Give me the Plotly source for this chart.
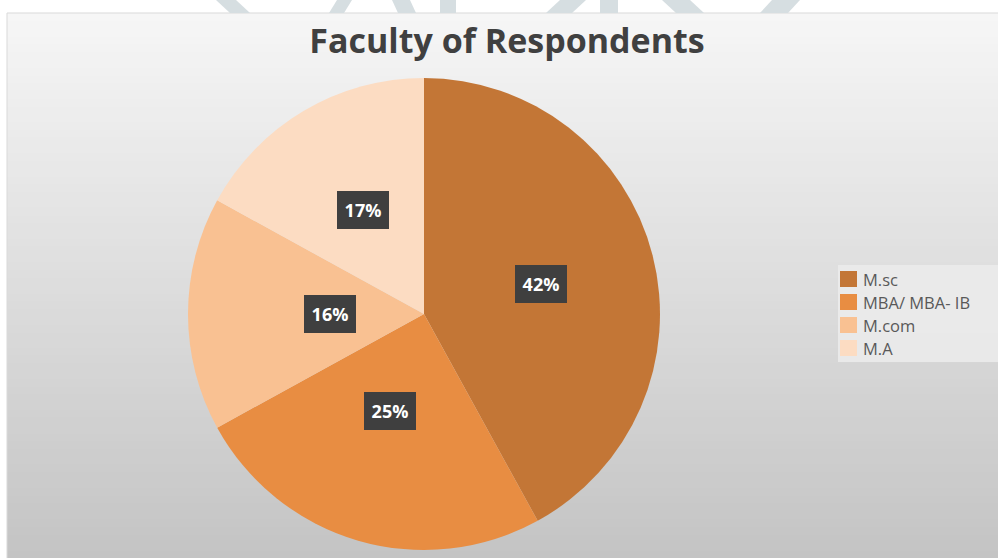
import math
import plotly.graph_objects as go

# ---- data ----
categories = ["M.sc", "MBA/ MBA- IB", "M.com", "M.A"]
values = [42, 25, 16, 17]
colors = ["#C37636", "#E88D42", "#F9C192", "#FCDCC2"]
title_text = "Faculty of Respondents"

W, H = 998, 558
cx, cy, R = 424, 314, 236  # pie centre/radius in pixels

def px2x(x):
    return x / W

def px2y(y):
    return 1 - y / H

fig = go.Figure()
fig.add_trace(go.Pie(
    labels=categories, values=values, sort=False, direction="clockwise",
    rotation=0, marker=dict(colors=colors, line=dict(width=0)),
    textinfo="none", hoverinfo="label+percent", showlegend=False,
    domain=dict(x=[px2x(cx - R), px2x(cx + R)], y=[px2y(cy + R), px2y(cy - R)]),
))

shapes = []
top = 13
n = 70
def mix(a, b, t):
    return int(round(a + (b - a) * t))
for i in range(n):
    y0 = top + (H - top) * i / n
    y1 = top + (H - top) * (i + 1) / n + 2
    t = i / (n - 1)
    v = mix(246, 196, t)
    shapes.append(dict(type="rect", xref="paper", yref="paper", layer="below",
                       x0=px2x(7), x1=1.01, y0=px2y(min(y1, H + 2)), y1=px2y(y0),
                       fillcolor=f"rgb({v},{v},{v})", line=dict(width=0)))
# chart border
shapes.append(dict(type="rect", xref="paper", yref="paper", layer="below",
                   x0=px2x(7), x1=1.01, y0=-0.01, y1=px2y(top),
                   fillcolor="rgba(0,0,0,0)", line=dict(width=1, color="#D9D9D9")))
# faint watermark bits in top strip
for (xa, xb, sk) in [(216, 236, 14), (337, 352, -8), (392, 410, 6), (440, 456, 0),
                     (560, 586, -14), (600, 618, 0), (662, 690, 14), (772, 800, -12)]:
    shapes.append(dict(type="path", xref="paper", yref="paper", layer="below",
                       path=f"M {px2x(xa)},1 L {px2x(xb)},1 L {px2x(xb+sk)},{px2y(top)} L {px2x(xa+sk)},{px2y(top)} Z",
                       fillcolor="#D6DEE1", line=dict(width=0)))
# legend background
shapes.append(dict(type="rect", xref="paper", yref="paper", layer="below",
                   x0=px2x(838), x1=1.01, y0=px2y(362), y1=px2y(265),
                   fillcolor="rgba(236,236,236,0.85)", line=dict(width=0)))

annotations = []
# manual legend built from categories / colors
leg_x, leg_y0, leg_dy = 840, 279, 23
for i, (cat, col) in enumerate(zip(categories, colors)):
    yc = leg_y0 + i * leg_dy
    shapes.append(dict(type="rect", xref="paper", yref="paper",
                       x0=px2x(leg_x), x1=px2x(leg_x + 17), y0=px2y(yc + 8), y1=px2y(yc - 8),
                       fillcolor=col, line=dict(width=0)))
    annotations.append(dict(x=px2x(leg_x + 21), y=px2y(yc), xref="paper", yref="paper",
                            xanchor="left", yanchor="middle", showarrow=False, text=cat,
                            font=dict(family="Open Sans", size=16.5, color="#595959")))

# data labels with dark boxes, placed at slice mid-angles
total = sum(values)
cum = 0
for v in values:
    mid = (cum + v / 2) / total * 2 * math.pi
    cum += v
    rr = R * 0.51
    px = cx + rr * math.sin(mid)
    py = cy - rr * math.cos(mid)
    annotations.append(dict(
        x=px2x(px), y=px2y(py), xref="paper", yref="paper", showarrow=False,
        text=f"<b>{round(v / total * 100)}%</b>", width=40, height=26,
        font=dict(family="Open Sans", size=18, color="white"),
        bgcolor="#3F3F3F", borderpad=6, bordercolor="#3F3F3F", borderwidth=0))

fig.update_layout(
    width=W, height=H, margin=dict(l=0, r=0, t=0, b=0),
    paper_bgcolor="white", plot_bgcolor="rgba(0,0,0,0)",
    title=dict(text=f"<b>{title_text}</b>", x=px2x(507), xanchor="center",
               y=px2y(41), yanchor="middle",
               font=dict(family="Open Sans", size=34, color="#404040")),
    showlegend=False,
    shapes=shapes, annotations=annotations,
)
fig.write_html("out.html", config={"displayModeBar": False},
               post_script="document.body.style.margin='0';document.body.style.overflow='hidden';")
